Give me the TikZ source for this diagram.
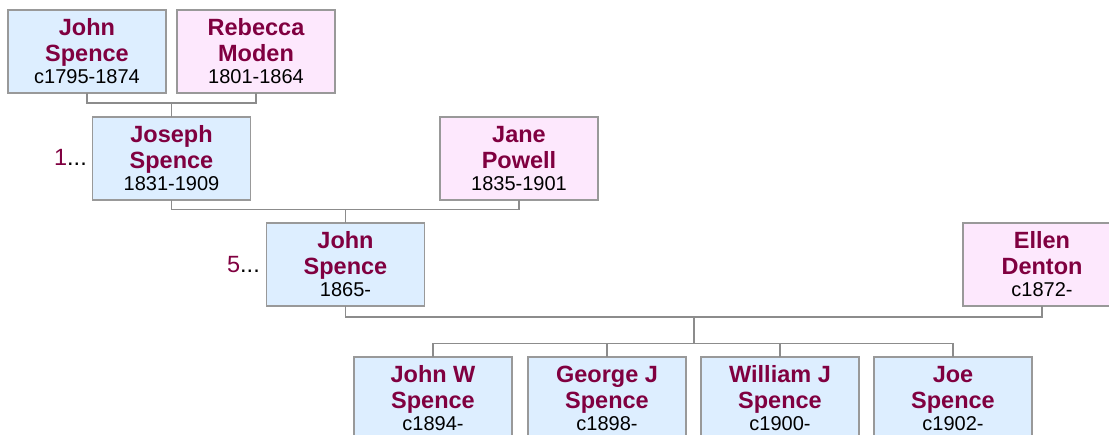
\documentclass[tikz,border=0pt]{standalone}
\usepackage{fontspec}
\setmainfont{Liberation Sans}
\usetikzlibrary{calc}
\definecolor{namecol}{HTML}{800040}
\definecolor{malefill}{HTML}{DDEEFF}
\definecolor{femfill}{HTML}{FDE8FD}
\definecolor{boxline}{HTML}{999999}
\definecolor{connline}{HTML}{8C8C8C}
\tikzset{
  pbox/.style={draw=boxline, line width=1.3pt, minimum width=158pt, minimum height=83pt, inner sep=0pt, outer sep=0pt},
  male/.style={pbox, fill=malefill},
  female/.style={pbox, fill=femfill},
  nm/.style={anchor=base, inner sep=0pt, text=namecol, font=\fontsize{23.5}{26}\selectfont\bfseries},
  dt/.style={anchor=base, inner sep=0pt, text=black, font=\fontsize{20}{22}\selectfont},
  pre/.style={anchor=base east, inner sep=0pt, text=black, font=\fontsize{23.5}{26}\selectfont},
  conn/.style={draw=connline, line width=1.3pt}
}
\newcommand{\person}[6]{%
  \node[#2] (#1) at (#3) {};
  \node[nm] (#1a) at ($(#1.north)+(0,25)$) {#4};
  \node[nm] (#1b) at ($(#1.north)+(0,51)$) {#5};
  \node[dt] (#1c) at ($(#1.north)+(0,73)$) {#6};
}
\begin{document}
\begin{tikzpicture}[x=1pt,y=-1pt]
\clip (0,0) rectangle (1109,434);
\fill[white] (0,0) rectangle (1109,434);
% generation 1
\person{jsA}{male}{87,51.5}{John}{Spence}{c1795-1874}
\person{rm}{female}{256,51.5}{Rebecca}{Moden}{1801-1864}
% generation 2
\person{jos}{male}{171.5,158.5}{Joseph}{Spence}{1831-1909}
\person{jp}{female}{519,158.5}{Jane}{Powell}{1835-1901}
% generation 3
\person{jsB}{male}{345.5,264.5}{John}{Spence}{1865-}
\person{ed}{female}{1042,264.5}{Ellen}{Denton}{c1872-}
% children
\person{jw}{male}{433,398.5}{John W}{Spence}{c1894-}
\person{gj}{male}{607,398.5}{George J}{Spence}{c1898-}
\person{wj}{male}{780,398.5}{William J}{Spence}{c1900-}
\person{joe}{male}{953,398.5}{Joe}{Spence}{c1902-}
% prefixes
\node[pre] (p1) at (87,165) {\textcolor{namecol}{1}...};
\node[pre] (p5) at (260,272) {\textcolor{namecol}{5}...};
% connectors
\coordinate (m1) at (171.5,103);
\draw[conn] (jsA.south) |- (m1) -| (rm.south);
\draw[conn] (m1) -- (jos.north);
\coordinate (m2) at (345.5,209.5);
\draw[conn] (jos.south) |- (m2) -| (jp.south);
\draw[conn] (m2) -- (jsB.north);
\coordinate (m3) at (694,317);
\coordinate (m4) at (694,343.5);
\draw[conn] (jsB.south) |- (m3) -| (ed.south);
\draw[conn] (m3) -- (m4);
\draw[conn] (jw.north) |- (m4) -| (joe.north);
\draw[conn] (gj.north) -- (gj.north |- m4);
\draw[conn] (wj.north) -- (wj.north |- m4);
\end{tikzpicture}
\end{document}
